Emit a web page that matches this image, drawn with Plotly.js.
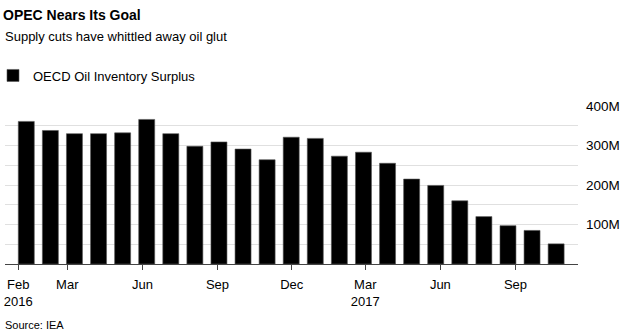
<!DOCTYPE html>
<html>
<head>
<meta charset="utf-8">
<script src="https://cdn.plot.ly/plotly-3.0.1.min.js"></script>
<style>html,body{margin:0;padding:0;background:#fff;}#chart{width:631px;height:336px;}</style>
</head>
<body>
<div id="chart"></div>
<script>
// Data
var months = ['2016-02','2016-03','2016-04','2016-05','2016-06','2016-07','2016-08','2016-09','2016-10','2016-11','2016-12',
              '2017-01','2017-02','2017-03','2017-04','2017-05','2017-06','2017-07','2017-08','2017-09','2017-10','2017-11','2017-12'];
var surplus = [361, 338, 330, 330, 332, 366, 330, 298, 309, 291, 264,
               321, 318, 273, 283, 255, 215, 199, 160, 120, 97, 85, 51];
var seriesName = 'OECD Oil Inventory Surplus';
var xTickDates = ['2016-01-01','2016-03-01','2016-06-01','2016-09-01','2016-12-01','2017-03-01','2017-06-01','2017-09-01'];
var xTickLabels = ['Feb<br>2016','Mar','Jun','Sep','Dec','Mar<br>2017','Jun','Sep'];
var yTickVals = [0, 50, 100, 150, 200, 250, 300, 350, 400];
var yTickLabels = ['', '', '100M', '', '200M', '', '300M', '', '400M'];

var FONT = 'Liberation Sans, Arial, sans-serif';
var idx = months.map(function(m, i){ return i; });
var DAYS_PER_SLOT = 29.5;
var origin = Date.UTC(2016, 0, 1);
var xTickVals = xTickDates.map(function(d){
  var p = d.split('-');
  var t = Date.UTC(+p[0], +p[1]-1, +p[2]);
  return (t - origin) / 86400000 / DAYS_PER_SLOT;
});

var trace = {
  type: 'bar',
  x: idx,
  y: surplus,
  name: seriesName,
  offset: 0,
  width: 0.664,
  marker: {color: '#000000', line: {color: '#555555', width: 0.6}},
  showlegend: true,
  hoverinfo: 'y'
};

var layout = {
  width: 631, height: 336,
  margin: {l: 5, r: 52.7, t: 106, b: 71.7, pad: 0},
  paper_bgcolor: '#ffffff', plot_bgcolor: '#ffffff',
  font: {family: FONT, color: '#000', size: 13},
  title: {
    text: '<b>OPEC Nears Its Goal</b>',
    font: {family: FONT, size: 14, color: '#000'},
    xref: 'container', yref: 'container',
    x: 3/631, xanchor: 'left',
    y: 1 - 15/336, yanchor: 'middle'
  },
  showlegend: true,
  legend: {
    orientation: 'h',
    xref: 'container', yref: 'container',
    x: 0, xanchor: 'left',
    y: 1 - 75.5/336, yanchor: 'middle',
    indentation: -7,
    font: {family: FONT, size: 13, color: '#000'},
    bgcolor: 'rgba(0,0,0,0)',
    itemclick: false
  },
  bargap: 0,
  xaxis: {
    type: 'linear',
    range: [-0.552, 23.24],
    tickmode: 'array',
    tickvals: xTickVals,
    ticktext: xTickLabels,
    ticks: 'outside', ticklen: 5, tickwidth: 1, tickcolor: '#444',
    ticklabelstandoff: 3,
    tickfont: {family: FONT, size: 13, color: '#000'},
    showline: true, linecolor: '#444', linewidth: 1,
    showgrid: false, zeroline: false,
    fixedrange: true
  },
  yaxis: {
    side: 'right',
    range: [0, 400],
    tickmode: 'array',
    tickvals: yTickVals,
    ticktext: yTickLabels,
    ticks: '',
    ticklabelstandoff: 7,
    tickfont: {family: FONT, size: 13.5, color: '#000'},
    showgrid: true, gridcolor: '#e0e0e0', gridwidth: 1,
    zeroline: false, showline: false,
    fixedrange: true
  },
  annotations: [
    {
      text: 'Supply cuts have whittled away oil glut',
      xref: 'paper', yref: 'paper', showarrow: false,
      x: -2/573.3, xanchor: 'left',
      y: 1 + (106 - 36.7)/158.3, yanchor: 'middle',
      font: {family: FONT, size: 13, color: '#000'}
    },
    {
      text: 'Source: IEA',
      xref: 'paper', yref: 'paper', showarrow: false,
      x: -2/573.3, xanchor: 'left',
      y: -(325.7 - 264.3)/158.3, yanchor: 'middle',
      font: {family: FONT, size: 11, color: '#000'}
    }
  ]
};

Plotly.newPlot('chart', [trace], layout, {displayModeBar: false, staticPlot: true});
</script>
</body>
</html>
